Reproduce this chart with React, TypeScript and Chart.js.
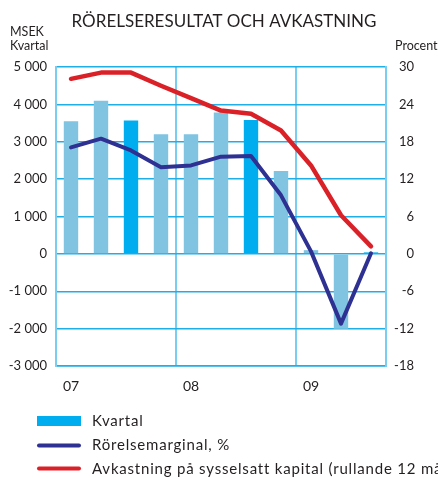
import React, { useEffect, useRef } from "react";
import { Chart, registerables } from "chart.js";

Chart.register(...registerables);

const categories = ["07", "", "", "", "08", "", "", "", "09", "", ""];
const kvartal = [3550, 4100, 3570, 3200, 3200, 3780, 3580, 2220, 100, -2000, 40];
const rorelsemarginal = [17.1, 18.5, 16.6, 13.9, 14.2, 15.6, 15.7, 9.4, 0.4, -11.2, 0.1];
const avkastning = [28.1, 29.1, 29.1, 27.0, 25.0, 23.0, 22.5, 19.8, 14.2, 6.2, 1.2];
const leftTicks = [-3000, -2000, -1000, 0, 1000, 2000, 3000, 4000, 5000];
const rightTicks = [-18, -12, -6, 0, 6, 12, 18, 24, 30];

const title = "RÖRELSERESULTAT OCH AVKASTNING";
const leftUnit = ["MSEK", "Kvartal"];
const rightUnit = "Procent";
const legendLabels = [
  "Kvartal",
  "Rörelsemarginal, %",
  "Avkastning på sysselsatt kapital (rullande 12 månader), %",
];

const FONT = "Lato, 'Open Sans', sans-serif";
const TEXT = "#231f20";
const BAR_LIGHT = "#80c4e2";
const BAR_DARK = "#00aeef";
const NAVY = "#2e3192";
const RED = "#db2128";
const GRID_H = "#1eaee8";
const GRID_V = "#78cdf1";

const fmt = (v: number) => {
  const s = Math.abs(v).toString();
  const withSpace = s.length > 3 ? s.slice(0, s.length - 3) + " " + s.slice(-3) : s;
  return (v < 0 ? "-" : "") + withSpace;
};

const decorPlugin = {
  id: "decor",
  afterDraw(chart: any) {
    const ctx = chart.ctx as CanvasRenderingContext2D;
    ctx.save();
    ctx.fillStyle = TEXT;
    ctx.textBaseline = "alphabetic";
    ctx.textAlign = "center";
    ctx.font = `17px ${FONT}`;
    ctx.fillText(title, 224, 27);
    ctx.textAlign = "left";
    ctx.font = `12.5px ${FONT}`;
    ctx.fillText(leftUnit[0], 10, 36);
    ctx.fillText(leftUnit[1], 10, 50);
    ctx.fillText(rightUnit, 395, 50);

    // legend
    const x0 = 37;
    const x1 = 81;
    ctx.fillStyle = BAR_DARK;
    ctx.fillRect(x0, 416, x1 - x0, 10);
    ctx.lineCap = "round";
    ctx.lineWidth = 4;
    ctx.strokeStyle = NAVY;
    ctx.beginPath();
    ctx.moveTo(x0 + 2, 445.5);
    ctx.lineTo(x1 - 2, 445.5);
    ctx.stroke();
    ctx.strokeStyle = RED;
    ctx.beginPath();
    ctx.moveTo(x0 + 2, 468.5);
    ctx.lineTo(x1 - 2, 468.5);
    ctx.stroke();
    ctx.fillStyle = TEXT;
    ctx.font = `15px ${FONT}`;
    (ctx as any).letterSpacing = "0.8px";
    ctx.fillText(legendLabels[0], 92, 426);
    ctx.fillText(legendLabels[1], 92, 450);
    ctx.fillText(legendLabels[2], 92, 474);
    ctx.restore();
  },
};

export default function App() {
  const ref = useRef<HTMLCanvasElement | null>(null);

  useEffect(() => {
    if (!ref.current) return;
    const chart = new Chart(ref.current, {
      type: "bar",
      data: {
        labels: categories,
        datasets: [
          {
            type: "line",
            label: legendLabels[2],
            data: avkastning,
            yAxisID: "y2",
            borderColor: RED,
            borderWidth: 4.5,
            pointRadius: 0,
            tension: 0,
            borderCapStyle: "round",
            borderJoinStyle: "round",
            order: 0,
          },
          {
            type: "line",
            label: legendLabels[1],
            data: rorelsemarginal,
            yAxisID: "y2",
            borderColor: NAVY,
            borderWidth: 4,
            pointRadius: 0,
            tension: 0,
            borderCapStyle: "round",
            borderJoinStyle: "round",
            order: 1,
          },
          {
            type: "bar",
            label: legendLabels[0],
            data: kvartal,
            yAxisID: "y",
            backgroundColor: kvartal.map((_, i) => (i % 4 === 2 ? BAR_DARK : BAR_LIGHT)),
            barPercentage: 0.48,
            categoryPercentage: 1,
            order: 2,
          },
        ],
      },
      options: {
        responsive: false,
        animation: false,
        devicePixelRatio: 1,
        layout: { padding: { top: 67, bottom: 82, left: 0, right: 24 } },
        plugins: {
          legend: { display: false },
          title: { display: false },
          tooltip: { enabled: false },
        },
        scales: {
          x: {
            grid: {
              offset: true,
              drawTicks: false,
              lineWidth: 2,
              color: (c: any) => (typeof c.index === "number" && c.index % 4 === 0 ? GRID_V : "transparent"),
            },
            border: { display: true, color: GRID_H, width: 1.5 },
            ticks: {
              color: TEXT,
              font: { family: FONT, size: 14 },
              padding: 12,
              autoSkip: false,
              maxRotation: 0,
            },
            afterFit: (s: any) => {
              s.height = 30;
            },
          },
          y: {
            position: "left",
            min: leftTicks[0],
            max: leftTicks[leftTicks.length - 1],
            afterBuildTicks: (s: any) => {
              s.ticks = leftTicks.map((v) => ({ value: v }));
            },
            grid: { drawTicks: false, color: GRID_H, lineWidth: 1.5 },
            border: { display: true, color: GRID_V, width: 2 },
            ticks: {
              color: TEXT,
              font: { family: FONT, size: 13 },
              padding: 9,
              callback: (v: any) => fmt(Number(v)),
            },
            afterFit: (s: any) => {
              s.width = 56;
            },
          },
          y2: {
            position: "right",
            min: rightTicks[0],
            max: rightTicks[rightTicks.length - 1],
            afterBuildTicks: (s: any) => {
              s.ticks = rightTicks.map((v) => ({ value: v }));
            },
            grid: { display: false, drawTicks: false },
            border: { display: true, color: GRID_V, width: 2 },
            ticks: {
              color: TEXT,
              font: { family: FONT, size: 13 },
              crossAlign: "far",
              callback: (v: any) => String(v),
            },
            afterFit: (s: any) => {
              s.width = 28;
            },
          },
        },
      },
      plugins: [decorPlugin],
    });
    return () => chart.destroy();
  }, []);

  return (
    <div style={{ position: "absolute", left: 0, top: 0, width: 438, height: 478, background: "#fff" }}>
      <canvas ref={ref} width={438} height={478} style={{ display: "block" }} />
    </div>
  );
}
